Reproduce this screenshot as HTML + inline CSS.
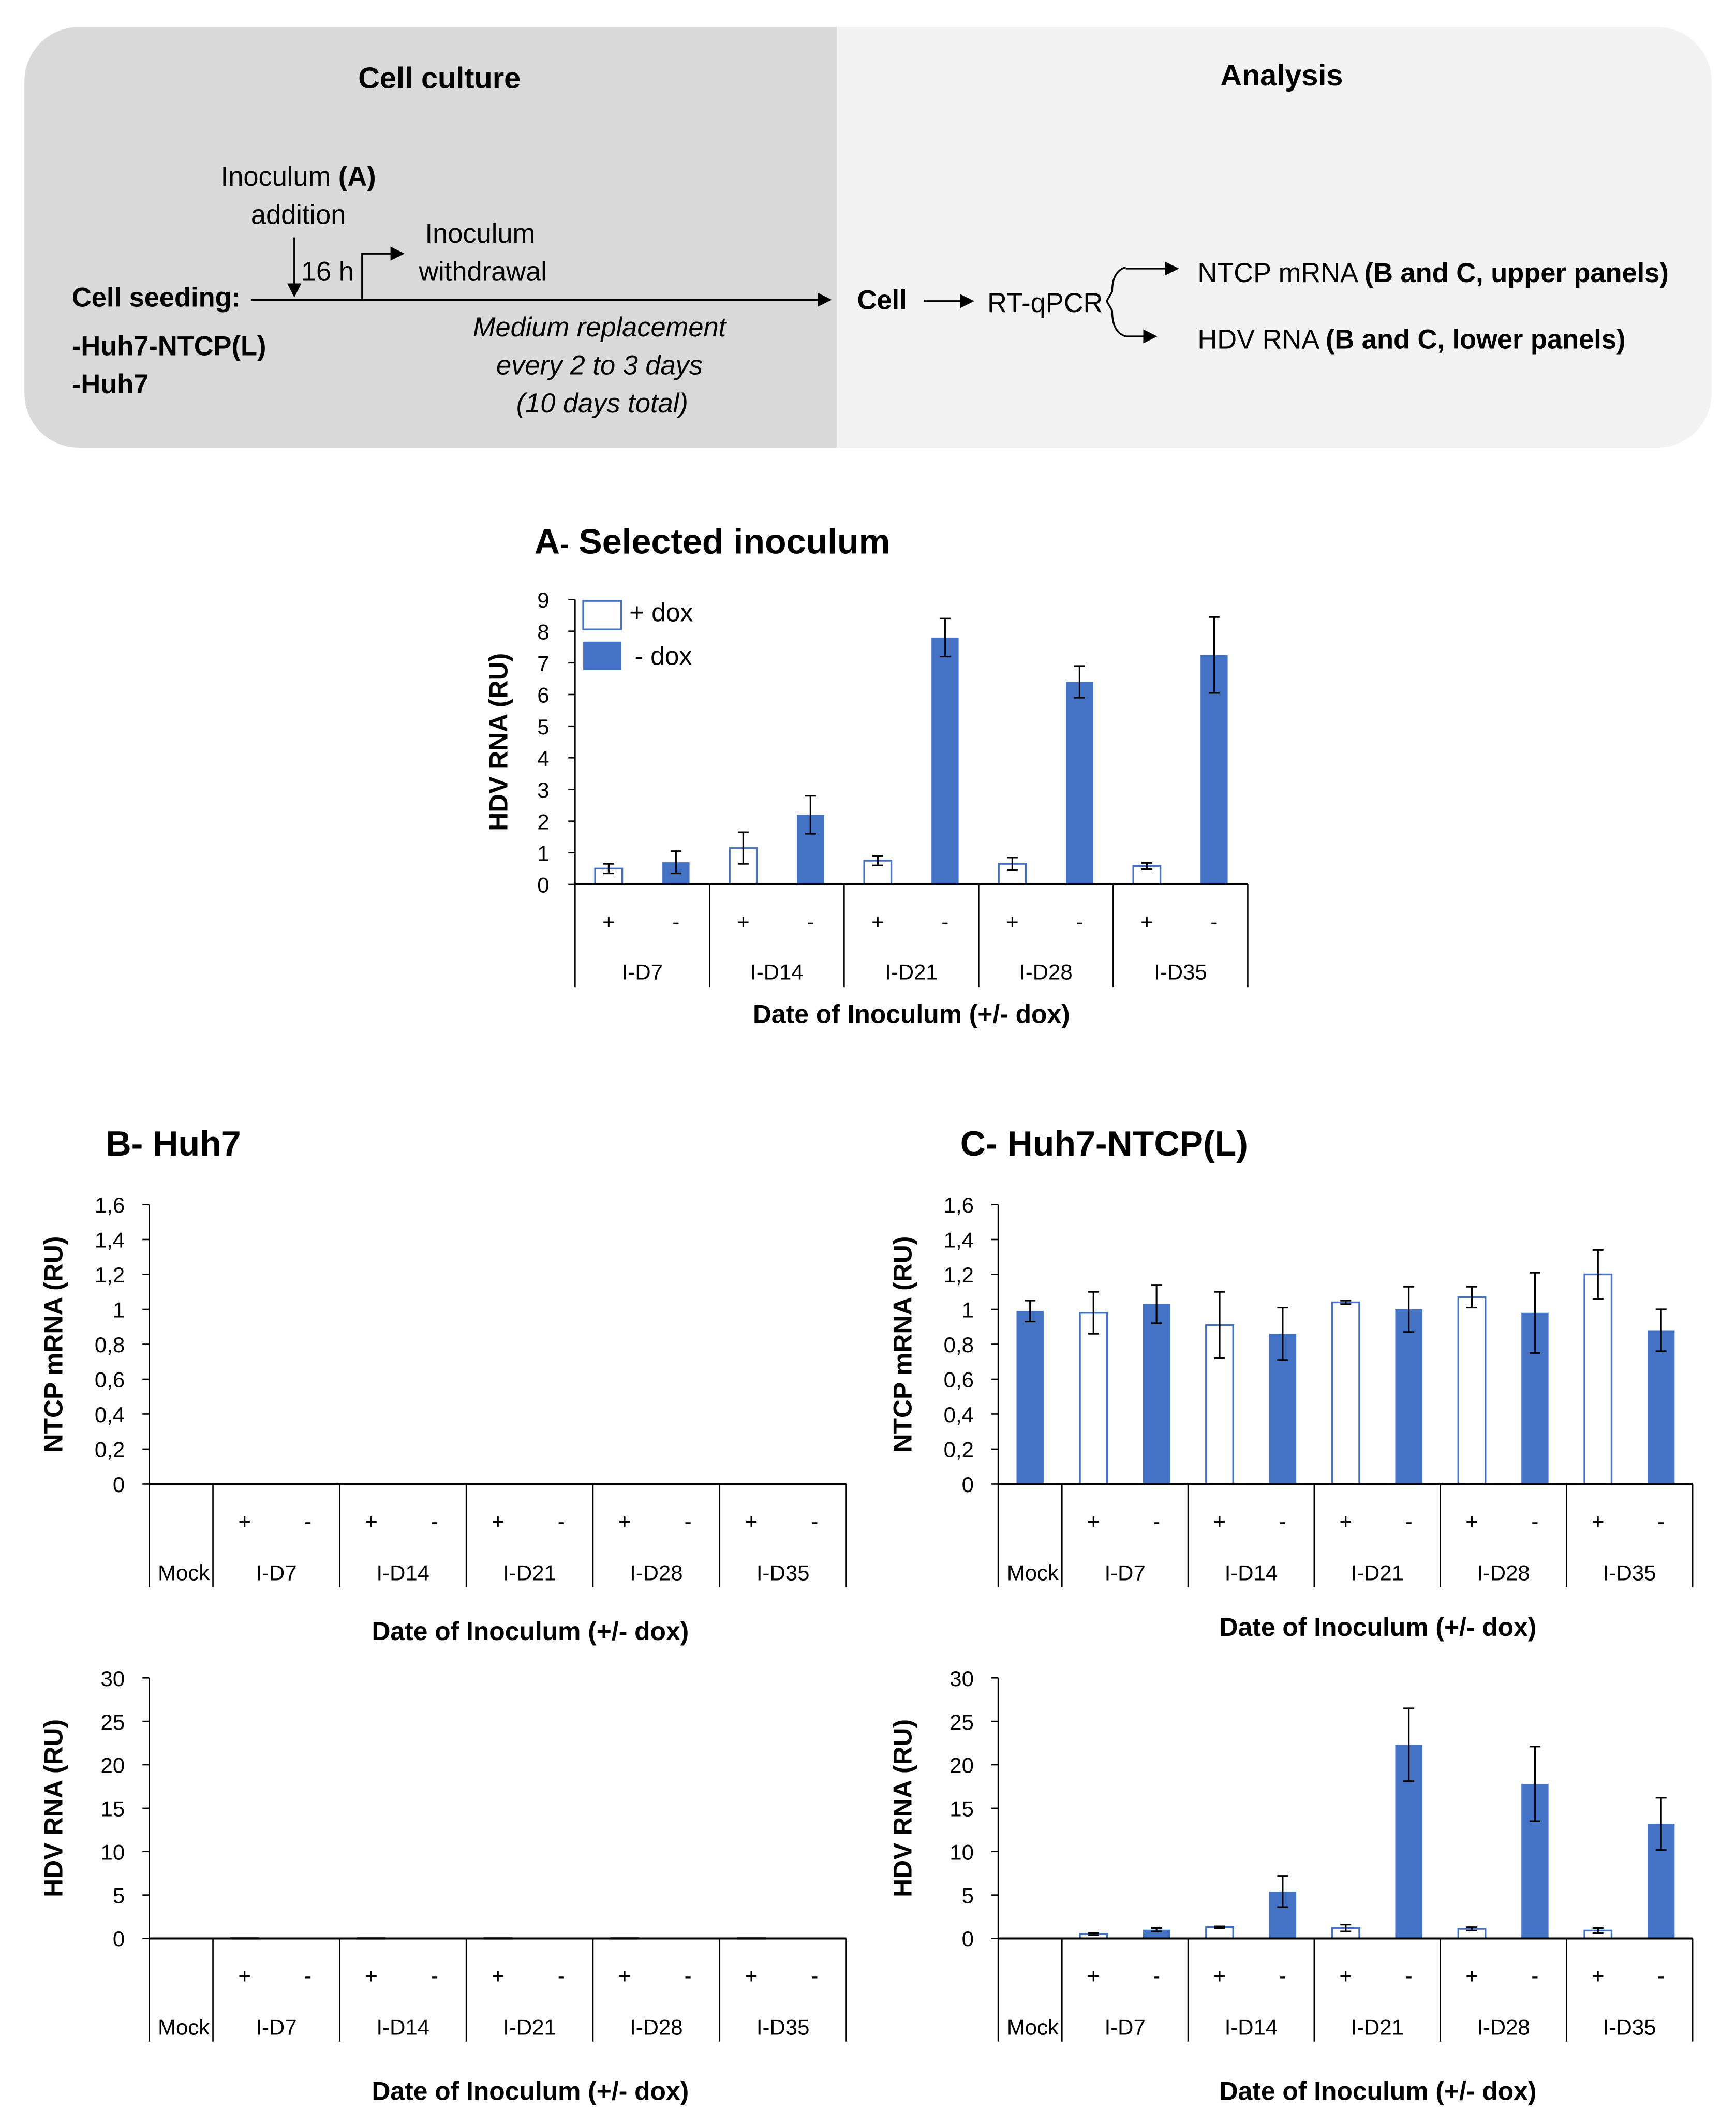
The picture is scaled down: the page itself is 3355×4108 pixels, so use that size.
<!DOCTYPE html>
<html><head><meta charset="utf-8"><style>
html,body{margin:0;padding:0;background:#fff;}
svg{display:block;font-family:"Liberation Sans",sans-serif;}
</style></head><body>
<svg id="fig" xmlns="http://www.w3.org/2000/svg" width="3355" height="4108" viewBox="0 0 1280 1567.3">
<defs><marker id="ah" markerWidth="8" markerHeight="8" refX="7" refY="4" orient="auto"><path d="M0,0 L8,4 L0,8 z" fill="#000"/></marker></defs>
<g font-size="20">
<path d="M58,20 H617 V330 H58 A40,40 0 0 1 18,290 V60 A40,40 0 0 1 58,20 z" fill="#d9d9d9"/>
<path d="M617,20 H1222 A40,40 0 0 1 1262,60 V290 A40,40 0 0 1 1222,330 H617 z" fill="#f2f2f2"/>
<text x="324" y="65" text-anchor="middle" font-weight="bold" font-size="22">Cell culture</text>
<text x="945" y="63" text-anchor="middle" font-weight="bold" font-size="22">Analysis</text>
<text x="220" y="137" text-anchor="middle">Inoculum <tspan font-weight="bold">(A)</tspan></text>
<text x="220" y="165" text-anchor="middle">addition</text>
<line x1="217" y1="175" x2="217" y2="218" stroke="#000" stroke-width="1.3" marker-end="url(#ah)"/>
<text x="222" y="207">16 h</text>
<polyline points="267,221 267,187 297,187" fill="none" stroke="#000" stroke-width="1.3" marker-end="url(#ah)"/>
<text x="354" y="179" text-anchor="middle">Inoculum</text>
<text x="356" y="207" text-anchor="middle">withdrawal</text>
<line x1="185" y1="221" x2="612" y2="221" stroke="#000" stroke-width="1.3" marker-end="url(#ah)"/>
<text x="53" y="226" font-weight="bold">Cell seeding:</text>
<text x="53" y="262" font-weight="bold">-Huh7-NTCP(L)</text>
<text x="53" y="290" font-weight="bold">-Huh7</text>
<text x="442" y="248" text-anchor="middle" font-style="italic">Medium replacement</text>
<text x="442" y="276" text-anchor="middle" font-style="italic">every 2 to 3 days</text>
<text x="444" y="304" text-anchor="middle" font-style="italic">(10 days total)</text>
<text x="632" y="228" font-weight="bold">Cell</text>
<line x1="681" y1="222" x2="717" y2="222" stroke="#000" stroke-width="1.3" marker-end="url(#ah)"/>
<text x="728" y="230">RT-qPCR</text>
<path d="M830,197 Q820,200 820,215 L816,222 L820,229 Q820,245 830,248" fill="none" stroke="#000" stroke-width="1.3"/>
<line x1="830" y1="198" x2="868" y2="198" stroke="#000" stroke-width="1.3" marker-end="url(#ah)"/>
<line x1="830" y1="248" x2="852" y2="248" stroke="#000" stroke-width="1.3" marker-end="url(#ah)"/>
<text x="883" y="208">NTCP mRNA <tspan font-weight="bold">(B and C,  upper panels)</tspan></text>
<text x="883" y="257">HDV RNA <tspan font-weight="bold">(B and C, lower panels)</tspan></text>
</g>
<text x="394" y="408" font-size="26" font-weight="bold">A<tspan font-size="20">-</tspan> Selected inoculum</text>
<text x="78" y="852" font-size="26" font-weight="bold">B- Huh7</text>
<text x="708" y="852" font-size="26" font-weight="bold">C- Huh7-NTCP(L)</text>
<g id="charts"></g>
</svg>
<script>
const BLUE = '#4472c4';
// Panel A data
const aGroups = ['I-D7','I-D14','I-D21','I-D28','I-D35'];
const aPlus = [0.5, 1.15, 0.75, 0.65, 0.58];
const aPlusErr = [0.15, 0.5, 0.15, 0.2, 0.1];
const aMinus = [0.7, 2.2, 7.8, 6.4, 7.25];
const aMinusErr = [0.35, 0.6, 0.6, 0.5, 1.2];
const aTicks = ['0','1','2','3','4','5','6','7','8','9'];
// Panels B/C
const bcGroups = ['I-D7','I-D14','I-D21','I-D28','I-D35'];
const ntcpTicks = ['0','0,2','0,4','0,6','0,8','1','1,2','1,4','1,6'];
const hdvTicks = ['0','5','10','15','20','25','30'];
const cNtcpMock = [0.99];
const cNtcpMockErr = [0.06];
const cNtcpPlus = [0.98, 0.91, 1.04, 1.07, 1.2];
const cNtcpPlusErr = [0.12, 0.19, 0.01, 0.06, 0.14];
const cNtcpMinus = [1.03, 0.86, 1.0, 0.98, 0.88];
const cNtcpMinusErr = [0.11, 0.15, 0.13, 0.23, 0.12];
const cHdvMock = [0.05];
const cHdvMockErr = [0];
const cHdvPlus = [0.5, 1.3, 1.2, 1.1, 0.9];
const cHdvPlusErr = [0.1, 0.1, 0.4, 0.2, 0.3];
const cHdvMinus = [1.0, 5.4, 22.3, 17.8, 13.2];
const cHdvMinusErr = [0.2, 1.8, 4.2, 4.3, 3.0];
const bHdvMock = [0.05];
const bHdvPlus = [0.05, 0.05, 0.05, 0.05, 0.05];
const bHdvMinus = [0.05, 0.05, 0.05, 0.05, 0.05];

const NS = 'http://www.w3.org/2000/svg';
const root = document.getElementById('charts');
function mk(tag, attrs, parent) {
  const e = document.createElementNS(NS, tag);
  for (const k in attrs) e.setAttribute(k, attrs[k]);
  (parent || root).appendChild(e);
  return e;
}
function txt(s, x, y, size, parent, extra) {
  const e = mk('text', Object.assign({x:x, y:y, 'font-size':size, 'text-anchor':'middle'}, extra||{}), parent);
  e.textContent = s;
  return e;
}
function bar(g, cx, w, v, err, filled, ys, y0, name) {
  const y = ys(v);
  const r = mk('rect', {x:cx-w/2, y:y, width:w, height:Math.max(y0-y,0.5), fill: filled?BLUE:'#fff', stroke:BLUE, 'stroke-width':filled?0:1.3}, g);
  
  
  if (err > 0) {
    const t = ys(v+err), b = ys(v-err);
    const eb = mk('path', {d:`M${cx},${t}V${b}M${cx-4},${t}H${cx+4}M${cx-4},${b}H${cx+4}`, stroke:'#000', 'stroke-width':1.2, fill:'none'}, g);
    
    
  }
}
function yaxis(g, x, y0, yTop, ticks, max, labelX, title, titleX) {
  const ys = v => y0 - (v/max)*(y0-yTop);
  mk('line', {x1:x, y1:yTop, x2:x, y2:y0, stroke:'#000', 'stroke-width':1}, g);
  ticks.forEach((t,i) => {
    const v = max*i/(ticks.length-1);
    mk('line', {x1:x-5, y1:ys(v), x2:x, y2:ys(v), stroke:'#000', 'stroke-width':1}, g);
    const tl = txt(t, labelX, ys(v)+6, 16, g, {'text-anchor':'end'});
    
    
  });
  const yt = txt(title, 0, 0, 19, g, {'font-weight':'bold', transform:`translate(${titleX},${(y0+yTop)/2}) rotate(-90)`});
  
  
  return ys;
}

// ---------- Panel A ----------
(function(){
  const g = mk('g', {});
  
  
  const x0 = 424, x1 = 920, y0 = 652, yTop = 442;
  const ys = yaxis(g, x0, y0, yTop, aTicks, 9, 405, 'HDV RNA (RU)', 374);
  const gw = (x1-x0)/aGroups.length;
  aGroups.forEach((name,i) => {
    const gx = x0 + i*gw;
    bar(g, gx+gw*0.25, 20, aPlus[i], aPlusErr[i], false, ys, y0, 'bar-plus-dox-'+name);
    bar(g, gx+gw*0.75, 20, aMinus[i], aMinusErr[i], true, ys, y0, 'bar-minus-dox-'+name);
    txt('+', gx+gw*0.25, 685, 16, g);
    txt('-', gx+gw*0.75, 685, 16, g);
    const gl = txt(name, gx+gw/2, 722, 16, g);
    
    
  });
  for (let i=0;i<=aGroups.length;i++) mk('line', {x1:x0+i*gw, y1:y0, x2:x0+i*gw, y2:728, stroke:'#000', 'stroke-width':1}, g);
  mk('line', {x1:x0, y1:y0, x2:x1, y2:y0, stroke:'#000', 'stroke-width':1.5}, g);
  const xt = txt('Date of Inoculum (+/- dox)', 672, 754, 19, g, {'font-weight':'bold'});
  
  
  const lg = mk('g', {}, g);
  
  
  mk('rect', {x:430, y:443, width:28, height:21, fill:'#fff', stroke:BLUE, 'stroke-width':1.3}, lg);
  mk('rect', {x:430, y:473, width:28, height:21, fill:BLUE}, lg);
  txt('+ dox', 464, 458, 19, lg, {'text-anchor':'start'});
  txt('- dox', 468, 490, 19, lg, {'text-anchor':'start'});
})();

// ---------- Panels B/C ----------
function bcChart(name, x0, x1, y0, yTop, ticks, max, title, mock, mockErr, plus, plusErr, minus, minusErr, lineBottom, pmY, lblY, titleY) {
  const g = mk('g', {});
  
  
  const ys = yaxis(g, x0, y0, yTop, ticks, max, x0-18, title, x0-64);
  const mw = 47;
  const gw = (x1-x0-mw)/bcGroups.length;
  if (mock) bar(g, x0+mw/2, 20, mock[0], mockErr ? mockErr[0] : 0, true, ys, y0, 'bar-mock');
  const ml = txt('Mock', x0+mw/2+2, lblY, 16, g);
  
  
  bcGroups.forEach((gn,i) => {
    const gx = x0 + mw + i*gw;
    if (plus) bar(g, gx+gw*0.25, 20, plus[i], plusErr ? plusErr[i] : 0, false, ys, y0, 'bar-plus-dox-'+gn);
    if (minus) bar(g, gx+gw*0.75, 20, minus[i], minusErr ? minusErr[i] : 0, true, ys, y0, 'bar-minus-dox-'+gn);
    txt('+', gx+gw*0.25, pmY, 16, g);
    txt('-', gx+gw*0.75, pmY, 16, g);
    const gl = txt(gn, gx+gw/2, lblY, 16, g);
    
    
  });
  mk('line', {x1:x0, y1:y0, x2:x0, y2:lineBottom, stroke:'#000', 'stroke-width':1}, g);
  for (let i=0;i<=bcGroups.length;i++) mk('line', {x1:x0+mw+i*gw, y1:y0, x2:x0+mw+i*gw, y2:lineBottom, stroke:'#000', 'stroke-width':1}, g);
  mk('line', {x1:x0, y1:y0, x2:x1, y2:y0, stroke:'#000', 'stroke-width':1.5}, g);
  const xt = txt('Date of Inoculum (+/- dox)', (x0+x1)/2+24, titleY, 19, g, {'font-weight':'bold'});
  
  
}
bcChart('chart-b-ntcp-mrna', 110, 624, 1094, 888, ntcpTicks, 1.6, 'NTCP mRNA (RU)', null, null, null, null, null, null, 1170, 1127, 1165, 1209);
bcChart('chart-b-hdv-rna', 110, 624, 1429, 1237, hdvTicks, 30, 'HDV RNA (RU)', bHdvMock, null, bHdvPlus, null, bHdvMinus, null, 1505, 1462, 1500, 1548);
bcChart('chart-c-ntcp-mrna', 736, 1248, 1094, 888, ntcpTicks, 1.6, 'NTCP mRNA (RU)', cNtcpMock, cNtcpMockErr, cNtcpPlus, cNtcpPlusErr, cNtcpMinus, cNtcpMinusErr, 1170, 1127, 1165, 1206);
bcChart('chart-c-hdv-rna', 736, 1248, 1429, 1237, hdvTicks, 30, 'HDV RNA (RU)', cHdvMock, cHdvMockErr, cHdvPlus, cHdvPlusErr, cHdvMinus, cHdvMinusErr, 1505, 1462, 1500, 1548);
</script>
</body></html>
